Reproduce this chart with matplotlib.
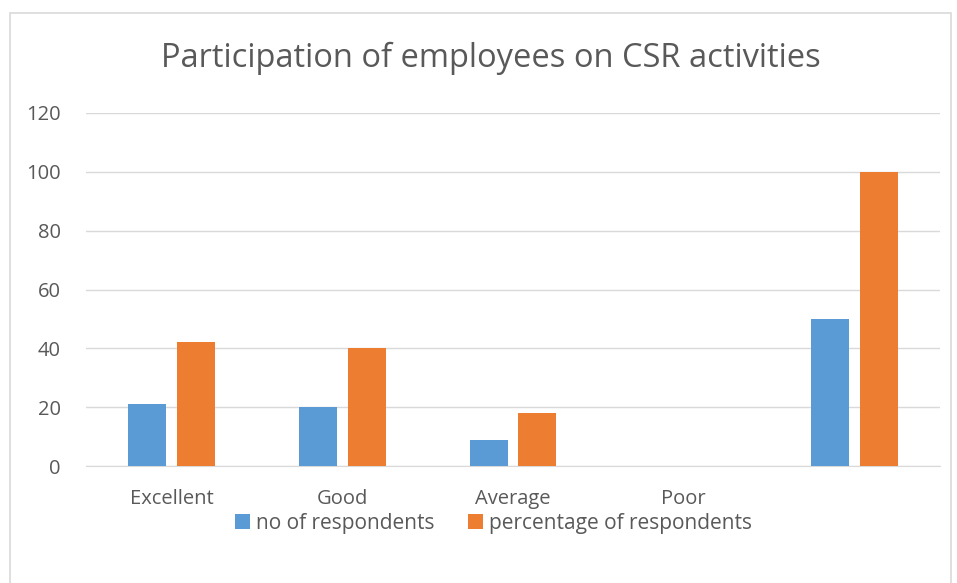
import matplotlib
matplotlib.use('Agg')
import matplotlib.pyplot as plt
from matplotlib.patches import Rectangle
import numpy as np

categories = ['Excellent', 'Good', 'Average', 'Poor', '']
no_of_respondents = [21, 20, 9, 0, 50]
percentage_of_respondents = [42, 40, 18, 0, 100]
yticks = [0, 20, 40, 60, 80, 100, 120]

blue = '#5B9BD5'
orange = '#ED7D31'
text_col = '#595959'
grid_col = '#D9D9D9'

plt.rcParams['font.family'] = ['Open Sans', 'DejaVu Sans']

fig = plt.figure(figsize=(9.57, 5.83), dpi=100)
fig.patches.append(Rectangle((10 / 957, -0.01), 941 / 957, 1 - 13 / 583 + 0.01,
                             transform=fig.transFigure, fill=False,
                             edgecolor='#D9D9D9', linewidth=1.2))
ax = fig.add_axes([86 / 957, 1 - 466 / 583, (940 - 86) / 957, (466 - 113) / 583])

x = np.arange(len(categories))
w = 0.222
off = 0.143
ax.bar(x - off, no_of_respondents, w, color=blue, label='no of respondents', zorder=3)
ax.bar(x + off, percentage_of_respondents, w, color=orange,
       label='percentage of respondents', zorder=3)

ax.set_xlim(-0.5, len(categories) - 0.5)
ax.set_ylim(0, 120)
ax.set_yticks(yticks)
ax.set_xticks(x)
ax.set_xticklabels(categories)
ax.yaxis.grid(True, color=grid_col, linewidth=1, zorder=0)
for s in ['top', 'right', 'left']:
    ax.spines[s].set_visible(False)
ax.spines['bottom'].set_color(grid_col)
ax.tick_params(axis='both', length=0, labelsize=14.5, colors=text_col)
ax.tick_params(axis='y', pad=18)
ax.tick_params(axis='x', pad=16.5)

fig.text(491 / 957, 1 - 58 / 583, 'Participation of employees on CSR activities',
         ha='center', va='center', fontsize=23.5, color=text_col)

fig.legend(loc='center', bbox_to_anchor=(493.5 / 957, 1 - 523 / 583), ncol=2, frameon=False,
           fontsize=15, labelcolor=text_col, handlelength=0.7, handleheight=0.7,
           handletextpad=0.3, columnspacing=1.6)

fig.savefig('out.png', dpi=100)
